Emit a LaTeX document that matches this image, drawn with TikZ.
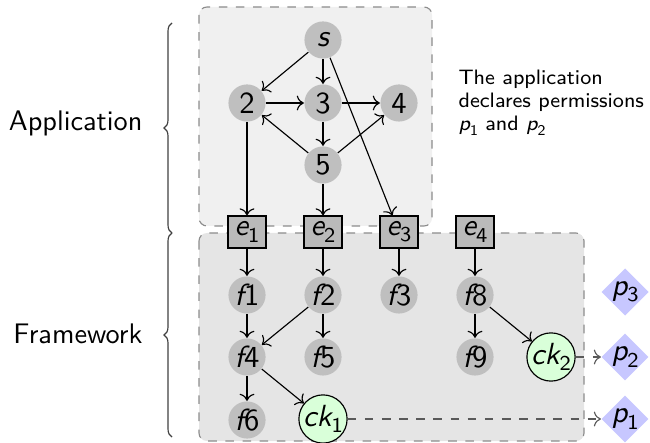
\documentclass[tikz,border=0pt]{standalone}
\usepackage{fontspec}
\usetikzlibrary{shapes.geometric,decorations.pathreplacing,arrows.meta}
\newcommand\ssub[3][7.4]{{\itshape #2}\raisebox{-0.45ex}{\fontsize{#1}{#1}\selectfont #3}}
\begin{document}
\begin{tikzpicture}[x=0.35pt,y=-0.35pt,
  every node/.style={font=\sffamily},
  nfont/.style={font=\sffamily\fontsize{10.7}{12}\selectfont},
  vtx/.style={circle, fill=black!25, minimum size=13pt, inner sep=0pt, nfont},
  evt/.style={draw, fill=black!27, minimum width=13.3pt, minimum height=11.2pt, inner sep=0pt, nfont},
  chk/.style={circle, draw, fill=green!15, minimum size=16.4pt, inner sep=0pt, nfont},
  perm/.style={diamond, fill=blue!22, minimum size=15.8pt, inner sep=0pt, nfont},
  edge/.style={->},
  dedge/.style={->, dashed, draw=black!65},
  region/.style={dashed, draw=black!45, rounded corners=2.8pt},
  lbl/.style={anchor=base east, inner sep=0pt, font=\sffamily\fontsize{9.9}{12}\selectfont},
  note/.style={anchor=base west, inner sep=0pt, font=\sffamily\fontsize{7.3}{9}\selectfont},
  bracestyle/.style={decorate, decoration={brace, amplitude=2.8pt}, draw=black!75}
]
\useasboundingbox (0,0) rectangle (650,443);
% regions
\draw[region, fill=black!6] (199,7) rectangle (432,226);
\draw[region, fill=black!10] (199,233) rectangle (584,441);
% braces and labels
\draw[bracestyle] (172,233) -- (172,23);
\draw[bracestyle] (172,437) -- (172,233);
\node[lbl] (lapp) at (143,131) {Application};
\node[lbl] (lfw) at (143,343) {Framework};
% note
\node[note] (t1) at (458,85) {The application};
\node[note] (t2) at (458,108) {declares permissions};
\node[note] (t3) at (458,131) {\ssub[5.2]{p}{1} and \ssub[5.2]{p}{2}};
% application nodes
\node[vtx] (s) at (323,40) {\itshape s};
\node[vtx] (n2) at (247,103) {2};
\node[vtx] (n3) at (323,103) {3};
\node[vtx] (n4) at (399,103) {4};
\node[vtx] (n5) at (323,165) {5};
% entry points
\node[evt] (e1) at (247,232) {\ssub{e}{1}};
\node[evt] (e2) at (323,232) {\ssub{e}{2}};
\node[evt] (e3) at (399,232) {\ssub{e}{3}};
\node[evt] (e4) at (475,232) {\ssub{e}{4}};
% framework nodes
\node[vtx] (f1) at (247,295) {{\itshape f}1};
\node[vtx] (f2) at (323,295) {{\itshape f}2};
\node[vtx] (f3) at (399,295) {{\itshape f}3};
\node[vtx] (f8) at (475,295) {{\itshape f}8};
\node[vtx] (f4) at (247,357) {{\itshape f}4};
\node[vtx] (f5) at (323,357) {{\itshape f}5};
\node[vtx] (f9) at (475,357) {{\itshape f}9};
\node[vtx] (f6) at (247,420) {{\itshape f}6};
\node[chk] (ck1) at (323,419) {\ssub{ck}{1}};
\node[chk] (ck2) at (551,357) {\ssub{ck}{2}};
% permissions
\node[perm] (p3) at (625,292) {\ssub{p}{3}};
\node[perm] (p2) at (625,357) {\ssub{p}{2}};
\node[perm] (p1) at (625,419) {\ssub{p}{1}};
% edges
\draw[edge] (s) -- (n2);
\draw[edge] (s) -- (n3);
\draw[edge] (s) -- (e3);
\draw[edge] (n2) -- (n3);
\draw[edge] (n3) -- (n4);
\draw[edge] (n3) -- (n5);
\draw[edge] (n5) -- (n2);
\draw[edge] (n5) -- (n4);
\draw[edge] (n2) -- (e1);
\draw[edge] (n5) -- (e2);
\draw[edge] (e1) -- (f1);
\draw[edge] (e2) -- (f2);
\draw[edge] (e3) -- (f3);
\draw[edge] (e4) -- (f8);
\draw[edge] (f1) -- (f4);
\draw[edge] (f2) -- (f4);
\draw[edge] (f2) -- (f5);
\draw[edge] (f4) -- (f6);
\draw[edge] (f4) -- (ck1);
\draw[edge] (f8) -- (f9);
\draw[edge] (f8) -- (ck2);
\draw[dedge] (ck2) -- (p2);
\draw[dedge] (ck1) -- (p1);
\end{tikzpicture}
\end{document}
